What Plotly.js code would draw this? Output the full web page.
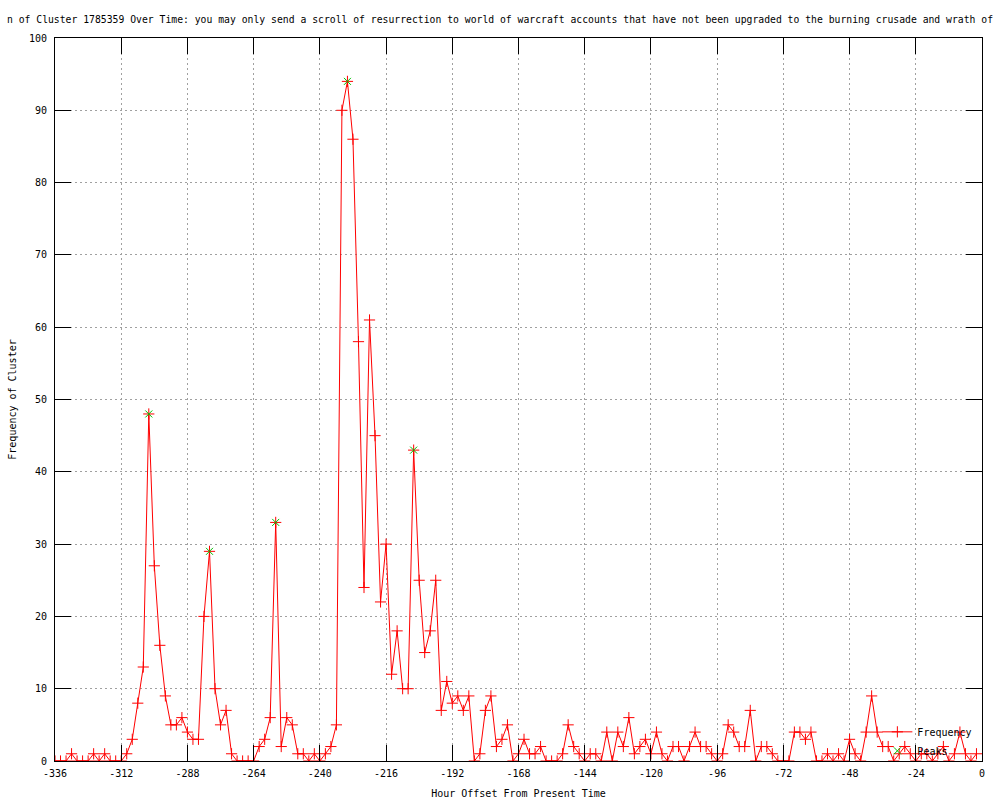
<!DOCTYPE html>
<html>
<head>
<meta charset="utf-8">
<script src="https://cdn.plot.ly/plotly-3.0.1.min.js"></script>
<style>html,body{margin:0;padding:0;background:#fff;}#chart{width:1000px;height:800px;}</style>
</head>
<body>
<div id="chart"></div>
<script>
// Hour offsets (every 2 hours from -336 to -2)
const hours = [
-336,-334,-332,-330,-328,-326,-324,-322,-320,-318,-316,-314,-312,-310,-308,-306,-304,-302,-300,-298,
-296,-294,-292,-290,-288,-286,-284,-282,-280,-278,-276,-274,-272,-270,-268,-266,-264,-262,-260,-258,
-256,-254,-252,-250,-248,-246,-244,-242,-240,-238,-236,-234,-232,-230,-228,-226,-224,-222,-220,-218,
-216,-214,-212,-210,-208,-206,-204,-202,-200,-198,-196,-194,-192,-190,-188,-186,-184,-182,-180,-178,
-176,-174,-172,-170,-168,-166,-164,-162,-160,-158,-156,-154,-152,-150,-148,-146,-144,-142,-140,-138,
-136,-134,-132,-130,-128,-126,-124,-122,-120,-118,-116,-114,-112,-110,-108,-106,-104,-102,-100,-98,
-96,-94,-92,-90,-88,-86,-84,-82,-80,-78,-76,-74,-72,-70,-68,-66,-64,-62,-60,-58,
-56,-54,-52,-50,-48,-46,-44,-42,-40,-38,-36,-34,-32,-30,-28,-26,-24,-22,-20,-18,
-16,-14,-12,-10,-8,-6,-4,-2
];
// Frequency of cluster at each hour offset
const frequency = [
0,0,0,1,0,0,0,1,0,1,0,0,0,1,3,8,13,48,27,16,
9,5,5,6,4,3,3,20,29,10,5,7,1,0,0,0,0,2,3,6,
33,2,6,5,1,1,0,1,0,1,2,5,90,94,86,58,24,61,45,22,
30,12,18,10,10,43,25,15,18,25,7,11,8,9,7,9,0,1,7,9,
2,3,5,0,1,3,1,1,2,0,0,0,1,5,2,1,0,1,1,0,
4,0,4,2,6,1,2,3,1,4,1,0,2,2,0,2,4,2,2,1,
0,1,5,4,2,2,7,0,2,2,1,0,0,0,4,4,3,4,0,0,
1,0,1,0,3,1,0,4,9,4,2,2,0,1,2,1,0,1,1,0,
1,2,0,1,4,1,0,1
];
// Detected peaks
const peakHours = [-302, -280, -256, -230, -206];
const peakValues = [48, 29, 33, 94, 43];

const xTickVals = [-336,-312,-288,-264,-240,-216,-192,-168,-144,-120,-96,-72,-48,-24,0];
const xTickLabels = ["-336","-312","-288","-264","-240","-216","-192","-168","-144","-120","-96","-72","-48","-24","0"];
const yTickVals = [0,10,20,30,40,50,60,70,80,90,100];
const yTickLabels = ["0","10","20","30","40","50","60","70","80","90","100"];

const titleText = "n of Cluster 1785359 Over Time: you may only send a scroll of resurrection to world of warcraft accounts that have not been upgraded to the burning crusade and wrath of";

const FONT = "DejaVu Sans Mono, Liberation Mono, monospace";

const traces = [
  {
    x: hours, y: frequency, name: "Frequency", type: "scatter", mode: "lines+markers",
    line: {color: "#ff0000", width: 1},
    marker: {symbol: "cross-thin", size: 8, color: "#ff0000", line: {color: "#ff0000", width: 1}},
    hoverinfo: "x+y"
  },
  {
    x: peakHours, y: peakValues, name: "Peaks", type: "scatter", mode: "markers",
    marker: {symbol: "x-thin", size: 7, color: "#00c000", line: {color: "#00c000", width: 1}},
    hoverinfo: "x+y"
  }
];

const axisCommon = {
  ticks: "inside", ticklen: 16, tickwidth: 1, tickcolor: "#000",
  showline: true, linecolor: "#000", linewidth: 1, mirror: "ticks",
  showgrid: true, gridcolor: "#a0a0a0", gridwidth: 1, griddash: "2px,3px",
  zeroline: false,
  tickfont: {family: FONT, size: 10, color: "#000"}
};

const layout = {
  width: 1000, height: 800,
  paper_bgcolor: "#fff", plot_bgcolor: "#fff",
  margin: {l: 55, r: 18.3, t: 38.3, b: 39.3, pad: 0},
  font: {family: FONT, size: 10, color: "#000"},
  title: {text: titleText, font: {family: FONT, size: 9.75, color: "#000"},
          xref: "container", x: 0.5, xanchor: "center", yref: "container", y: 0.976, yanchor: "middle"},
  xaxis: Object.assign({}, axisCommon, {
    range: [-336, 0], tickmode: "array", tickvals: xTickVals, ticktext: xTickLabels,
    ticklabelstandoff: 3,
    title: {text: "Hour Offset From Present Time", font: {family: FONT, size: 10, color: "#000"}, standoff: 11}
  }),
  yaxis: Object.assign({}, axisCommon, {
    range: [0, 100], tickmode: "array", tickvals: yTickVals, ticktext: yTickLabels,
    ticklabelstandoff: 5,
    title: {text: "Frequency of Cluster", font: {family: FONT, size: 10, color: "#000"}, standoff: 10}
  }),
  showlegend: true,
  legend: {
    x: 0.995, xanchor: "right", y: -0.006, yanchor: "bottom",
    bgcolor: "rgba(0,0,0,0)", borderwidth: 0,
    font: {family: FONT, size: 10, color: "#000"},
    itemwidth: 30, tracegroupgap: 0
  }
};

Plotly.newPlot("chart", traces, layout, {displayModeBar: false, staticPlot: true});
</script>
</body>
</html>
